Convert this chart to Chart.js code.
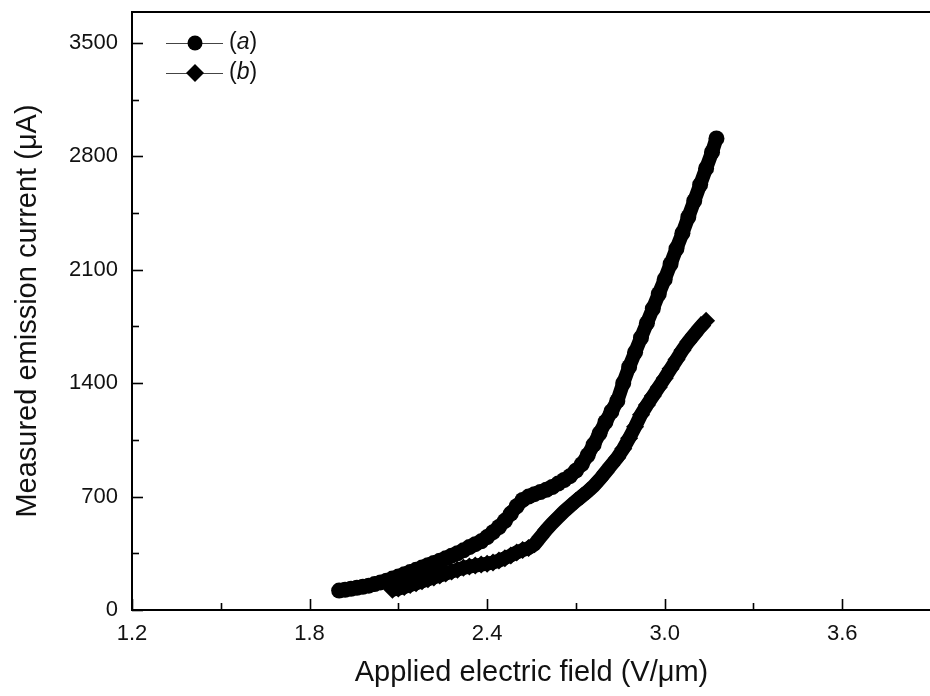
<!DOCTYPE html>
<html>
<head>
<meta charset="utf-8">
<script src="https://cdn.jsdelivr.net/npm/chart.js@4/dist/chart.umd.min.js"></script>
<style>
    html, body { margin: 0; padding: 0; background: #fff; overflow: hidden; }
    #wrap { width: 930px; height: 696px; overflow: hidden; }
</style>
</head>
<body>
<div id="wrap"><canvas id="emissionChart" width="940" height="696"></canvas></div>
<script>
// series (a), circles
const fieldA = [1.90, 1.92, 1.94, 1.96, 1.98, 2.00, 2.02, 2.04, 2.06, 2.08, 2.10, 2.12, 2.14, 2.16, 2.18, 2.20,
    2.22, 2.24, 2.26, 2.28, 2.30, 2.32, 2.34, 2.36, 2.38, 2.40, 2.42, 2.44, 2.46, 2.48, 2.50, 2.52, 2.54, 2.56,
    2.58, 2.60, 2.62, 2.64, 2.66, 2.68, 2.70, 2.72, 2.74, 2.76, 2.78, 2.80, 2.82, 2.84, 2.86, 2.88, 2.90, 2.92,
    2.94, 2.96, 2.98, 3.00, 3.02, 3.04, 3.06, 3.08, 3.10, 3.12, 3.14, 3.16, 3.175];
const currentA = [120, 125, 131, 137, 143, 150, 160, 170, 181, 194, 206, 220, 234, 248, 262, 276,
    290, 304, 319, 335, 350, 368, 388, 406, 424, 450, 480, 512, 550, 595, 640, 679, 700, 715,
    728, 742, 759, 780, 802, 826, 860, 900, 955, 1020, 1090, 1160, 1225, 1290, 1400, 1500, 1590, 1680,
    1770, 1860, 1950, 2040, 2135, 2230, 2325, 2425, 2525, 2625, 2725, 2825, 2910];

// series (b), diamonds
const fieldB = [2.08, 2.10, 2.12, 2.14, 2.16, 2.18, 2.20, 2.22, 2.24, 2.26, 2.28, 2.30, 2.32, 2.34, 2.36, 2.38,
    2.40, 2.42, 2.44, 2.46, 2.48, 2.50, 2.52, 2.54, 2.56, 2.58, 2.60, 2.62, 2.64, 2.66, 2.68, 2.70, 2.72, 2.74,
    2.76, 2.78, 2.80, 2.82, 2.84, 2.86, 2.88, 2.90, 2.92, 2.94, 2.96, 2.98, 3.00, 3.02, 3.04, 3.06, 3.08, 3.10,
    3.12, 3.14];
const currentB = [125, 132, 142, 154, 165, 177, 189, 201, 213, 225, 237, 249, 260, 268, 274, 280,
    286, 293, 305, 320, 336, 355, 370, 382, 405, 450, 495, 535, 572, 608, 640, 672, 702, 732,
    765, 805, 850, 895, 940, 995, 1060, 1130, 1205, 1265, 1320, 1375, 1430, 1488, 1545, 1603, 1655, 1700,
    1745, 1785];

const xLabels = ["1.2", "1.8", "2.4", "3.0", "3.6"];
const yLabels = ["0", "700", "1400", "2100", "2800", "3500"];
const legendNames = ["a", "b"];

function toPoints(xs, ys) {
    return xs.map(function (x, i) {
        return { x: x, y: ys[i] };
    });
}

const fontFamily = "'Liberation Sans', Arial, sans-serif";

// frame, inward tick marks and legend
const framePlugin = {
    id: "frame",
    afterDraw: function (chart) {
        const ctx = chart.ctx;
        const area = chart.chartArea;
        const xs = chart.scales.x;
        const ys = chart.scales.y;

        ctx.save();
        ctx.strokeStyle = "#000";
        ctx.lineWidth = 2;
        ctx.strokeRect(area.left, area.top, area.right - area.left, area.bottom - area.top);

        ctx.lineWidth = 1.6;
        xs.ticks.forEach(function (t) {
            const px = Math.round(xs.getPixelForValue(t.value)) + 0.5;
            const len = t.label ? 11 : 7;
            ctx.beginPath();
            ctx.moveTo(px, area.bottom);
            ctx.lineTo(px, area.bottom - len);
            ctx.stroke();
        });
        ys.ticks.forEach(function (t) {
            const py = Math.round(ys.getPixelForValue(t.value)) + 0.5;
            const len = t.label ? 11 : 7;
            ctx.beginPath();
            ctx.moveTo(area.left, py);
            ctx.lineTo(area.left + len, py);
            ctx.stroke();
        });

        // legend
        const rows = [43, 73];
        chart.data.datasets.forEach(function (ds, i) {
            const y = rows[i];
            ctx.strokeStyle = "#444";
            ctx.lineWidth = 1;
            ctx.beginPath();
            ctx.moveTo(166, y + 0.5);
            ctx.lineTo(223, y + 0.5);
            ctx.stroke();

            ctx.fillStyle = "#000";
            ctx.beginPath();
            if (i === 0) {
                ctx.arc(195, y, 7.5, 0, Math.PI * 2);
            } else {
                ctx.moveTo(195, y - 9);
                ctx.lineTo(204, y);
                ctx.lineTo(195, y + 9);
                ctx.lineTo(186, y);
                ctx.closePath();
            }
            ctx.fill();

            ctx.fillStyle = "#111";
            ctx.textBaseline = "middle";
            ctx.textAlign = "left";
            let tx = 229;
            ctx.font = "23px " + fontFamily;
            ctx.fillText("(", tx, y);
            tx += ctx.measureText("(").width;
            ctx.font = "italic 23px " + fontFamily;
            ctx.fillText(legendNames[i], tx, y);
            tx += ctx.measureText(legendNames[i]).width;
            ctx.font = "23px " + fontFamily;
            ctx.fillText(")", tx, y);
        });
        ctx.restore();
    },
};

const ctx = document.getElementById("emissionChart").getContext("2d");

new Chart(ctx, {
    type: "line",
    data: {
        datasets: [
            {
                label: "(a)",
                data: toPoints(fieldA, currentA),
                borderColor: "#000",
                backgroundColor: "#000",
                borderWidth: 14,
                pointStyle: "circle",
                pointRadius: 8,
                pointBorderWidth: 0,
                tension: 0,
            },
            {
                label: "(b)",
                data: toPoints(fieldB, currentB),
                borderColor: "#000",
                backgroundColor: "#000",
                borderWidth: 14,
                pointStyle: "rectRot",
                pointRadius: 9,
                pointBorderWidth: 0,
                tension: 0,
            },
        ],
    },
    options: {
        responsive: false,
        animation: false,
        devicePixelRatio: 1,
        layout: {
            padding: { top: 12, right: 2, left: 0, bottom: 0 },
        },
        plugins: {
            legend: { display: false },
            tooltip: { enabled: false },
        },
        scales: {
            x: {
                type: "linear",
                min: 1.2,
                max: 3.9,
                afterFit: function (scale) {
                    scale.height = 86;
                    scale.paddingRight = 0;
                },
                afterBuildTicks: function (scale) {
                    const ticks = [];
                    for (let k = 0; k <= 8; k++) {
                        ticks.push({ value: Math.round((1.2 + 0.3 * k) * 10) / 10 });
                    }
                    scale.ticks = ticks;
                },
                grid: { display: false, drawTicks: false },
                border: { display: false },
                ticks: {
                    autoSkip: false,
                    maxRotation: 0,
                    padding: 11,
                    color: "#111",
                    font: { family: fontFamily, size: 22 },
                    callback: function (value) {
                        const label = value.toFixed(1);
                        return xLabels.indexOf(label) >= 0 ? label : "";
                    },
                },
                title: {
                    display: true,
                    text: "Applied electric field (V/\u03bcm)",
                    color: "#111",
                    font: { family: fontFamily, size: 29 },
                    padding: { top: 0, bottom: 6 },
                },
            },
            y: {
                type: "linear",
                min: 0,
                max: 3690,
                afterFit: function (scale) {
                    scale.width = 132;
                    scale.paddingTop = 0;
                    scale.paddingBottom = 0;
                },
                afterBuildTicks: function (scale) {
                    const ticks = [];
                    for (let k = 0; k <= 10; k++) {
                        ticks.push({ value: 350 * k });
                    }
                    scale.ticks = ticks;
                },
                grid: { display: false, drawTicks: false },
                border: { display: false },
                ticks: {
                    autoSkip: false,
                    padding: 14,
                    color: "#111",
                    font: { family: fontFamily, size: 22 },
                    callback: function (value) {
                        const label = String(value);
                        return yLabels.indexOf(label) >= 0 ? label : "";
                    },
                },
                title: {
                    display: true,
                    text: "Measured emission current (\u03bcA)",
                    color: "#111",
                    font: { family: fontFamily, size: 29 },
                    padding: { top: 11, bottom: 0 },
                },
            },
        },
    },
    plugins: [framePlugin],
});
</script>
</body>
</html>
